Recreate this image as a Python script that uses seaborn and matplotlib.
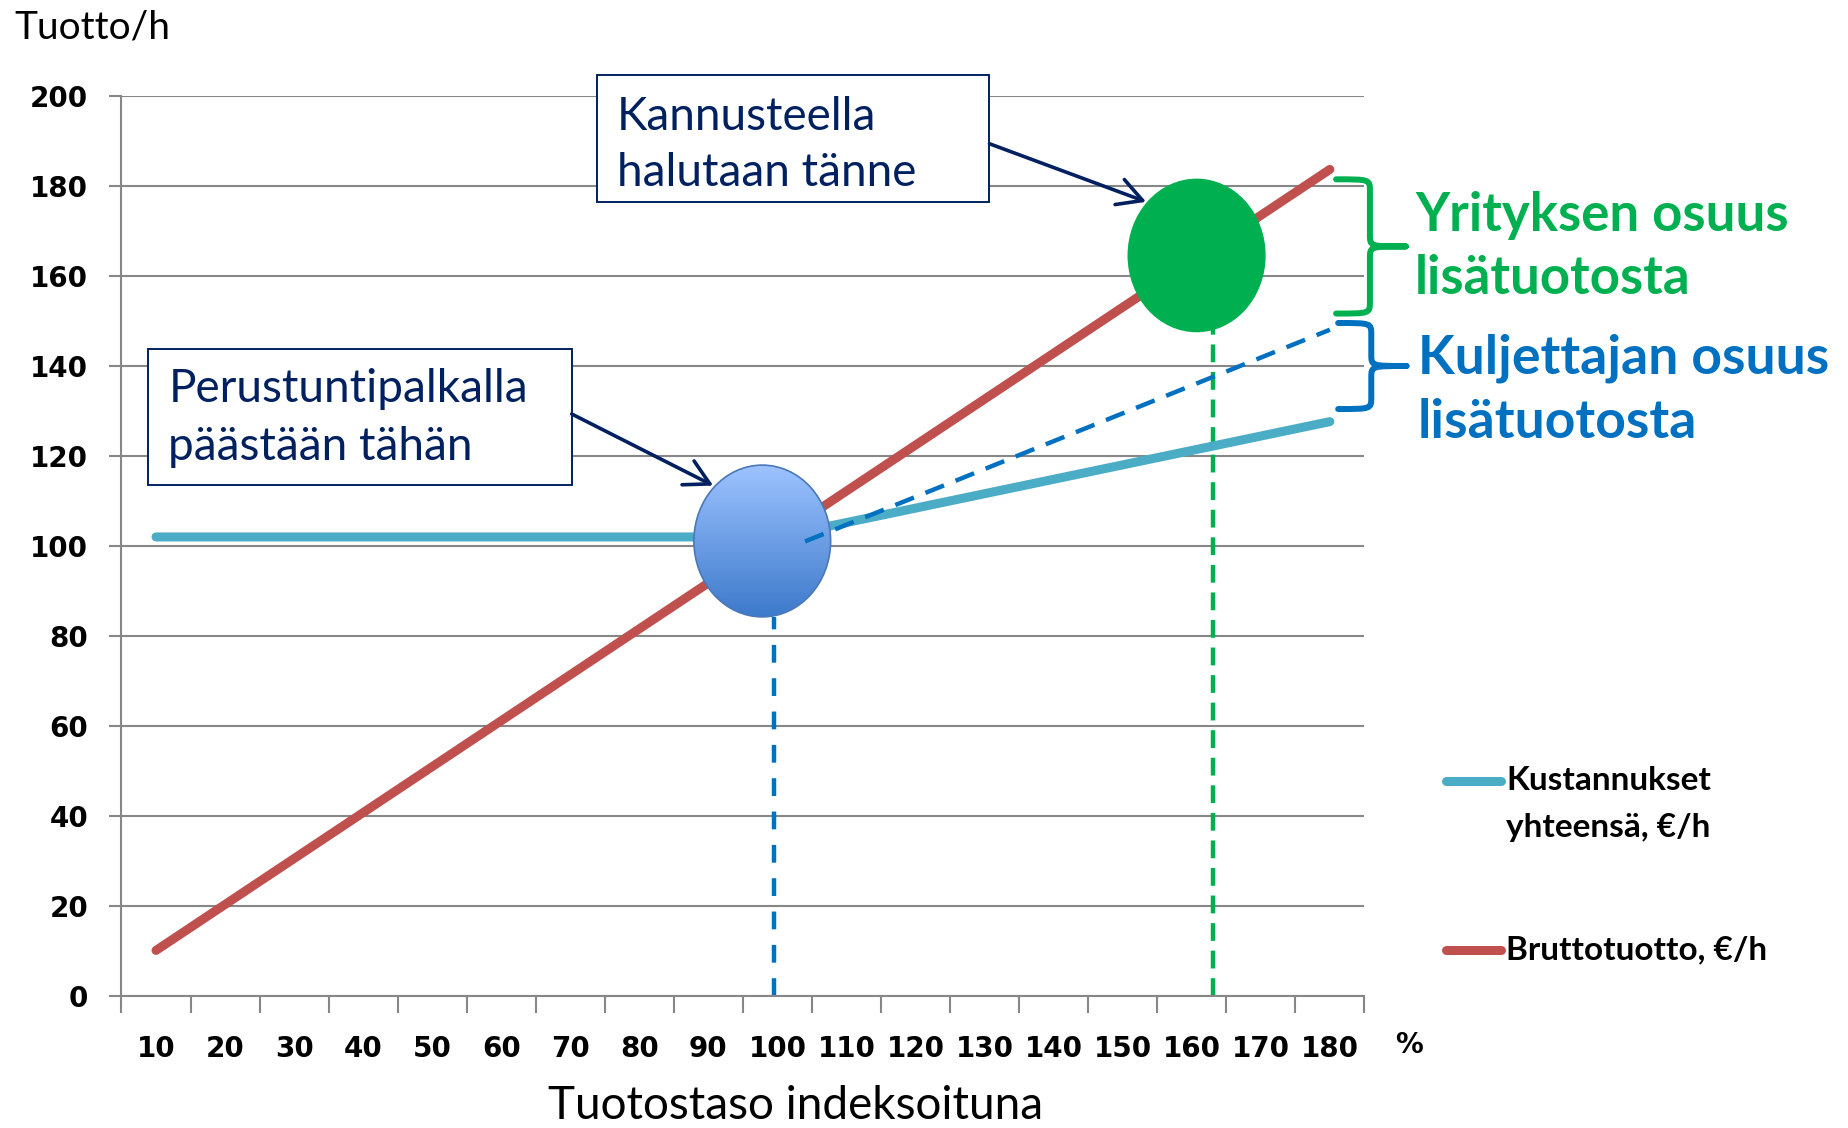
import numpy as np
import pandas as pd
import matplotlib
matplotlib.use("Agg")
import matplotlib.pyplot as plt
import seaborn as sns
from matplotlib.patches import Ellipse, Rectangle, PathPatch, FancyArrowPatch
from matplotlib.path import Path
from matplotlib.lines import Line2D
from matplotlib.colors import LinearSegmentedColormap

# ---------------- data ----------------
levels = [10, 20, 30, 40, 50, 60, 70, 80, 90, 100, 110, 120, 130, 140, 150, 160, 170, 180]
gross_revenue = [10.2, 20.4, 30.6, 40.8, 51.0, 61.2, 71.4, 81.6, 91.8, 102.0,
                 112.2, 122.4, 132.6, 142.8, 153.0, 163.2, 173.4, 183.6]
total_costs = [102, 102, 102, 102, 102, 102, 102, 102, 102, 102,
               105.2, 108.4, 111.6, 114.8, 118.0, 121.2, 124.4, 127.6]
driver_share_x = [104, 180]
driver_share_y = [101, 148]
y_ticks = [0, 20, 40, 60, 80, 100, 120, 140, 160, 180, 200]

base_point = (97.8, 101.1)      # "Perustuntipalkalla päästään tähän"
target_point = (160.7, 164.5)   # "Kannusteella halutaan tänne"
base_level_x = 99.5
base_level_top = 84.3
target_level_x = 163.1
target_level_top = 150

series_labels = ["Kustannukset\nyhteensä, €/h", "Bruttotuotto, €/h"]

RED = "#C0504D"
TEAL = "#4BACC6"
DBLUE = "#0070C0"
GREEN = "#00B050"
NAVY = "#002060"
GRID = "#878787"

df = pd.DataFrame({"level": levels, "gross": gross_revenue, "cost": total_costs})

sns.set_theme(style="white")
plt.rcParams["font.family"] = ["Lato", "DejaVu Sans"]

W, H = 1849, 1128
fig = plt.figure(figsize=(W / 100, H / 100), dpi=100)
ax = fig.add_axes([0.0657, 0.1167, 0.6722, 0.7986])

sns.lineplot(data=df, x="level", y="cost", ax=ax, color=TEAL, linewidth=6.5,
             solid_capstyle="round", zorder=3, legend=False)
sns.lineplot(data=df, x="level", y="gross", ax=ax, color=RED, linewidth=6.5,
             solid_capstyle="round", zorder=3, legend=False)

ax.set_xlim(5, 185)
ax.set_ylim(0, 200)

# grid / spines / ticks
ax.set_yticks(y_ticks)
ax.yaxis.grid(True, color=GRID, linewidth=1.5, zorder=0)
ax.xaxis.grid(False)
for s in ["top", "right"]:
    ax.spines[s].set_visible(False)
for s in ["left", "bottom"]:
    ax.spines[s].set_color(GRID)
    ax.spines[s].set_linewidth(1.5)
ax.set_xticks(levels)
ax.set_xticks([l - 5 for l in levels] + [185], minor=True)
ax.tick_params(axis="x", which="major", length=0, pad=28,
               labelsize=20, labelcolor="black")
ax.tick_params(axis="x", which="minor", length=12, width=1.5, color=GRID,
               direction="out", bottom=True)
ax.tick_params(axis="y", which="major", length=9, width=1.5, color=GRID,
               direction="out", left=True, pad=15, labelsize=20, labelcolor="black")
for lab in ax.get_xticklabels() + ax.get_yticklabels():
    lab.set_family("DejaVu Sans")
    lab.set_fontweight("bold")
ax.set_xlabel("")
ax.set_ylabel("")

# dashed guide lines
ax.plot(driver_share_x, driver_share_y, color=DBLUE, linewidth=3.2,
        dashes=(4.5, 2.8), zorder=6)
ax.plot([base_level_x, base_level_x], [0, base_level_top], color=DBLUE,
        linewidth=3.2, dashes=(4, 3.5), zorder=2)
ax.plot([target_level_x, target_level_x], [0, target_level_top], color=GREEN,
        linewidth=3.2, dashes=(4, 2.2), zorder=2)

# blue gradient ellipse
ew, eh = 19.8, 33.7
ell = Ellipse(base_point, ew, eh, facecolor="none", edgecolor="none",
              transform=ax.transData, zorder=5)
ax.add_patch(ell)
cmap = LinearSegmentedColormap.from_list("g", ["#9DC3FF", "#3D7ACB"])
grad = np.linspace(0, 1, 256).reshape(-1, 1)
im = ax.imshow(grad, cmap=cmap, aspect="auto", zorder=5,
               extent=[base_point[0] - ew / 2, base_point[0] + ew / 2,
                       base_point[1] - eh / 2, base_point[1] + eh / 2])
im.set_clip_path(ell)
ax.add_patch(Ellipse(base_point, ew, eh, facecolor="none", edgecolor="#4A78B8",
                     linewidth=1.2, zorder=5.5))

# green ellipse
ax.add_patch(Ellipse(target_point, 19.8, 33.8, facecolor=GREEN,
                     edgecolor=GREEN, linewidth=1, zorder=5))

ax.set_xlim(5, 185)
ax.set_ylim(0, 200)

# annotation boxes
def box(x0, x1, y0, y1):
    r = Rectangle((x0, y0), x1 - x0, y1 - y0, facecolor="white",
                  edgecolor=NAVY, linewidth=1.4, zorder=7, clip_on=False)
    ax.add_patch(r)

box(73.8, 130.7, 176.4, 204.5)
ax.text(76.7, 195.3, "Kannusteella", fontsize=33, color=NAVY, va="center",
        ha="left", zorder=8, clip_on=False)
ax.text(76.7, 182.7, "halutaan tänne", fontsize=33, color=NAVY, va="center",
        ha="left", zorder=8, clip_on=False)
box(8.9, 70.2, 113.6, 143.7)
ax.text(11.8, 134.8, "Perustuntipalkalla", fontsize=33, color=NAVY, va="center",
        ha="left", zorder=8)
ax.text(11.8, 122.0, "päästään tähän", fontsize=33, color=NAVY, va="center",
        ha="left", zorder=8)

for (p0, p1) in [((130.7, 189.3), (153.4, 176.4)), ((70.2, 129.3), (90.7, 113.4))]:
    ax.add_patch(FancyArrowPatch(p0, p1, arrowstyle="->,head_length=0.55,head_width=0.3",
                                 mutation_scale=32, color=NAVY, linewidth=2.6,
                                 zorder=8, shrinkA=0, shrinkB=0))

# braces
def brace(x0, xm, xt, yt, yb, color):
    ym = (yt + yb) / 2
    d = 2.6
    verts = [(x0, yt), (xm, yt), (xm, yt), (xm, yt - d),
             (xm, ym + d), (xm, ym), (xm, ym), (xt, ym),
             (xm, ym), (xm, ym), (xm, ym - d),
             (xm, yb + d), (xm, yb), (xm, yb), (x0, yb)]
    codes = [Path.MOVETO, Path.CURVE4, Path.CURVE4, Path.CURVE4,
             Path.LINETO, Path.CURVE4, Path.CURVE4, Path.CURVE4,
             Path.CURVE4, Path.CURVE4, Path.CURVE4,
             Path.LINETO, Path.CURVE4, Path.CURVE4, Path.CURVE4]
    ax.add_patch(PathPatch(Path(verts, codes), facecolor="none", edgecolor=color,
                           linewidth=4.3, capstyle="round", joinstyle="round",
                           zorder=6, clip_on=False))

brace(180.9, 185.8, 191.0, 181.4, 151.6, GREEN)
brace(181.2, 186.0, 191.1, 149.5, 130.4, DBLUE)

def fy(px):
    return 1 - px / H

def fx(px):
    return px / W

fig.text(fx(1415), fy(216), "Yrityksen osuus", fontsize=38, fontweight="bold",
         color=GREEN, va="center", ha="left")
fig.text(fx(1415), fy(279), "lisätuotosta", fontsize=38, fontweight="bold",
         color=GREEN, va="center", ha="left")
fig.text(fx(1418), fy(358), "Kuljettajan osuus", fontsize=38.5, fontweight="bold",
         color=DBLUE, va="center", ha="left")
fig.text(fx(1418), fy(422), "lisätuotosta", fontsize=38.5, fontweight="bold",
         color=DBLUE, va="center", ha="left")

# legend (manual, entries aligned to first text line)
for color, ypx, lab in [(TEAL, 781, series_labels[0]), (RED, 950, series_labels[1])]:
    fig.add_artist(Line2D([fx(1446), fx(1501)], [fy(ypx), fy(ypx)], color=color,
                          linewidth=6.5, solid_capstyle="round"))
    lines = lab.split("\n")
    for i, t in enumerate(lines):
        fig.text(fx(1506), fy(ypx + i * 46), t, fontsize=24, fontweight="bold",
                 color="black", va="center", ha="left")

fig.text(fx(14), fy(27), "Tuotto/h", fontsize=28, color="black", va="center", ha="left")
fig.text(fx(1409), fy(1045), "%", fontsize=20, color="black", va="center",
         ha="center", family="DejaVu Sans", fontweight="bold")
fig.text(fx(796), fy(1119), "Tuotostaso indeksoituna", fontsize=33, color="black",
         va="baseline", ha="center")

fig.savefig("out.png", dpi=100)
